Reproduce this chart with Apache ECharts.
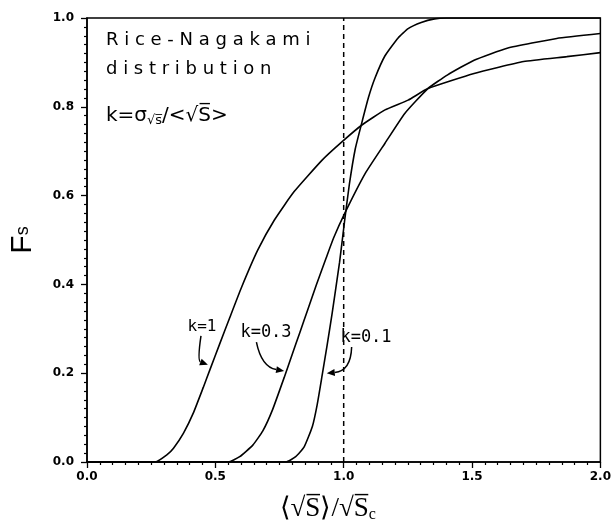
<!DOCTYPE html>
<html>
<head>
<meta charset="utf-8">
<script src="https://cdn.jsdelivr.net/npm/echarts@6/dist/echarts.min.js"></script>
<style>
  html, body { margin: 0; padding: 0; background: #fff; }
  #chart { width: 614px; height: 530px; }
</style>
</head>
<body>
<div id="chart"></div>
<script>
// curves: x = <sqrt S>/sqrt Sc, y = Fs
var k1X = [0, 0.266, 0.311, 0.337, 0.376, 0.414, 0.453, 0.479, 0.517, 0.556, 0.601, 0.665, 0.73, 0.807, 0.916, 0.993, 1.071, 1.161, 1.251, 1.328, 1.508, 1.701, 1.869, 2.0];
var k1F = [0, 0, 0.016, 0.031, 0.065, 0.11, 0.168, 0.208, 0.266, 0.325, 0.392, 0.477, 0.545, 0.609, 0.68, 0.721, 0.759, 0.793, 0.815, 0.841, 0.875, 0.902, 0.913, 0.922];

var k03X = [0, 0.55, 0.595, 0.646, 0.685, 0.723, 0.768, 0.801, 0.83, 0.86, 0.893, 0.932, 0.961, 1.004, 1.084, 1.161, 1.238, 1.328, 1.405, 1.508, 1.637, 1.83, 2.0];
var k03F = [0, 0, 0.012, 0.038, 0.07, 0.118, 0.19, 0.245, 0.293, 0.343, 0.398, 0.46, 0.505, 0.56, 0.65, 0.718, 0.785, 0.841, 0.872, 0.905, 0.932, 0.954, 0.965];

var k01X = [0, 0.775, 0.813, 0.846, 0.878, 0.897, 0.916, 0.936, 0.955, 0.984, 1.004, 1.022, 1.045, 1.071, 1.097, 1.122, 1.161, 1.212, 1.251, 1.302, 1.354, 1.4, 2.0];
var k01F = [0, 0, 0.012, 0.034, 0.08, 0.13, 0.195, 0.265, 0.335, 0.45, 0.545, 0.625, 0.705, 0.765, 0.822, 0.865, 0.915, 0.955, 0.976, 0.99, 0.998, 1.0, 1.0];

// vertical reference line at <sqrt S>/sqrt Sc = 1
var refX = [1.0, 1.0];
var refF = [0, 1.0];

var xTicks = [0, 0.5, 1.0, 1.5, 2.0];
var yTicks = [0, 0.2, 0.4, 0.6, 0.8, 1.0];

// curved label arrows: start, control, tip (data coords)
var arrows = [
  [[0.444, 0.284], [0.430, 0.228], [0.471, 0.219]],
  [[0.660, 0.270], [0.680, 0.214], [0.768, 0.205]],
  [[1.031, 0.259], [1.028, 0.205], [0.934, 0.200]]
];

function pairs(xs, ys) {
  return xs.map(function (x, i) { return [x, ys[i]]; });
}

var black = '#000';
var lineSt = { color: black, width: 1.6 };
var labelFont = { color: black, fontFamily: 'DejaVu Sans', fontWeight: 'bold', fontSize: 12 };

var texts = [
  { type: 'text', left: 106, top: 31, style: { text: 'R i c e - N a g a k a m i', font: '18px "DejaVu Sans"', fill: black } },
  { type: 'text', left: 106, top: 60, style: { text: 'd i s t r i b u t i o n', font: '18px "DejaVu Sans"', fill: black } },
  {
    type: 'text', left: 106, top: 106,
    style: {
      text: 'k=σ{sub|√s̅}/<√S̅>', fill: black,
      fontFamily: 'DejaVu Sans', fontSize: 20,
      rich: { sub: { fontFamily: 'DejaVu Sans', fontSize: 13, verticalAlign: 'bottom', padding: [9, 0, 0, 0] } }
    }
  },
  { type: 'text', x: 202, y: 327, style: { text: 'k=1', font: '16px "DejaVu Sans Mono"', fill: black, align: 'center', verticalAlign: 'middle' } },
  { type: 'text', x: 266, y: 333, style: { text: 'k=0.3', font: '17px "DejaVu Sans Mono"', fill: black, align: 'center', verticalAlign: 'middle' } },
  { type: 'text', x: 366, y: 338, style: { text: 'k=0.1', font: '17px "DejaVu Sans Mono"', fill: black, align: 'center', verticalAlign: 'middle' } }
];

var myChart = echarts.init(document.getElementById('chart'));
myChart.setOption({
  animation: false,
  backgroundColor: '#fff',
  grid: {
    left: 86, right: 10, top: 18, bottom: 68,
    show: true, borderColor: black, borderWidth: 1.5
  },
  xAxis: {
    type: 'value',
    min: xTicks[0], max: xTicks[xTicks.length - 1], interval: 0.5,
    axisLine: { lineStyle: { color: black, width: 1.5 } },
    axisTick: { length: 6, lineStyle: { color: black, width: 1.3 } },
    minorTick: { show: true, splitNumber: 10, length: 3, lineStyle: { color: black, width: 1.2 } },
    splitLine: { show: false },
    axisLabel: Object.assign({ margin: 9, formatter: function (v) { return v.toFixed(1); } }, labelFont),
    name: '⟨√S̅⟩/√S̅{c|c}',
    nameLocation: 'middle',
    nameGap: 32,
    nameTextStyle: {
      color: black, fontFamily: 'Liberation Serif', fontSize: 27,
      padding: [0, 32, 0, 0],
      rich: { c: { fontFamily: 'Liberation Serif', fontSize: 16, verticalAlign: 'bottom', padding: [13, 0, 0, 0] } }
    }
  },
  yAxis: {
    type: 'value',
    min: yTicks[0], max: yTicks[yTicks.length - 1], interval: 0.2,
    axisLine: { show: true, lineStyle: { color: black, width: 1.5 } },
    axisTick: { show: true, length: 6, lineStyle: { color: black, width: 1.3 } },
    minorTick: { show: true, splitNumber: 10, length: 3, lineStyle: { color: black, width: 1.2 } },
    splitLine: { show: false },
    axisLabel: Object.assign({ margin: 13, formatter: function (v) { return v.toFixed(1); } }, labelFont),
    name: 'F{s|s}',
    nameLocation: 'middle',
    nameRotate: 90,
    nameGap: 49,
    nameTextStyle: {
      color: black, fontFamily: 'Liberation Sans', fontSize: 30,
      rich: { s: { fontFamily: 'Liberation Sans', fontSize: 18, color: black } }
    }
  },
  graphic: texts,
  series: [
    {
      name: 'k=1', type: 'line', data: pairs(k1X, k1F), smooth: 0.15,
      showSymbol: false, lineStyle: lineSt
    },
    {
      name: 'k=0.3', type: 'line', data: pairs(k03X, k03F), smooth: 0.15,
      showSymbol: false, lineStyle: lineSt
    },
    {
      name: 'k=0.1', type: 'line', data: pairs(k01X, k01F), smooth: 0.15,
      showSymbol: false, lineStyle: lineSt
    },
    {
      name: 'ref', type: 'line', data: pairs(refX, refF),
      showSymbol: false, silent: true,
      lineStyle: { color: black, width: 1.5, type: [5, 4] }
    }
  ]
});

// arrows drawn as bezier shafts with a small head, placed through the grid's scales
var arrowEls = [];
arrows.forEach(function (a) {
  var p0 = myChart.convertToPixel({ gridIndex: 0 }, a[0]);
  var c = myChart.convertToPixel({ gridIndex: 0 }, a[1]);
  var p1 = myChart.convertToPixel({ gridIndex: 0 }, a[2]);
  var dx = p1[0] - c[0], dy = p1[1] - c[1];
  var len = Math.sqrt(dx * dx + dy * dy);
  var ux = dx / len, uy = dy / len;
  var hl = 8, hw = 3.5;
  var bx = p1[0] - ux * hl, by = p1[1] - uy * hl;
  arrowEls.push({
    type: 'bezierCurve', silent: true,
    shape: { x1: p0[0], y1: p0[1], cpx1: c[0], cpy1: c[1], x2: bx, y2: by },
    style: { stroke: black, lineWidth: 1.5, fill: null }
  });
  arrowEls.push({
    type: 'polygon', silent: true,
    shape: { points: [[p1[0], p1[1]], [bx - uy * hw, by + ux * hw], [bx + uy * hw, by - ux * hw]] },
    style: { fill: black }
  });
});
myChart.setOption({ graphic: texts.concat(arrowEls) });
</script>
</body>
</html>
